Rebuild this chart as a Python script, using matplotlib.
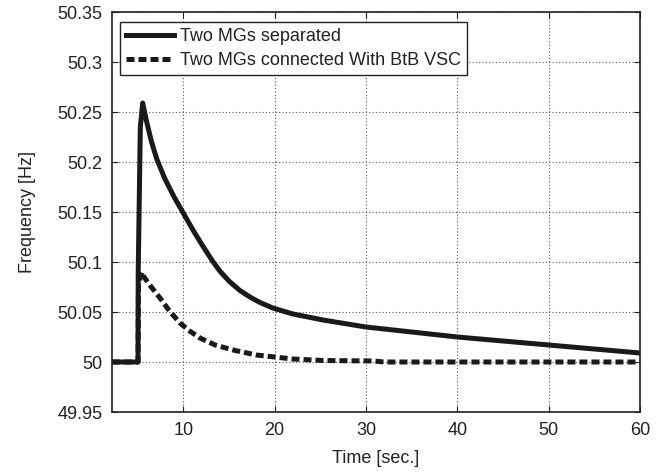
import matplotlib
matplotlib.use("Agg")
import matplotlib.pyplot as plt

plt.rcParams['font.family'] = ['Liberation Sans', 'DejaVu Sans']

# Data
t_sep = [2.2, 5.05, 5.07, 5.3, 5.56, 6.0, 6.5, 7.1, 8.0, 9.0, 10.0, 11.0, 12.0,
         13.2, 14.0, 15.0, 16.2, 17.3, 18.4, 19.8, 22.0, 25.3, 30.0, 35.0, 40.0, 45.0,
         50.0, 55.0, 60.0]
f_sep = [50.0, 50.0, 50.09, 50.235, 50.259, 50.240, 50.221, 50.203, 50.183,
         50.165, 50.149, 50.133, 50.118, 50.101, 50.091, 50.081, 50.0715, 50.065, 50.0595,
         50.054, 50.048, 50.042, 50.035, 50.030, 50.025, 50.021, 50.017, 50.013, 50.009]

t_con = [2.2, 5.05, 5.1, 5.5, 5.7, 6.5, 7.45, 8.5, 9.64, 10.7, 11.83, 13.5, 15.44, 18.0,
         20.0, 22.0, 25.3, 30.8, 32.0, 60.0]
f_con = [50.0, 50.0, 50.08, 50.09, 50.085, 50.075, 50.064, 50.051, 50.039, 50.031,
         50.024, 50.017, 50.012, 50.007, 50.005, 50.003, 50.0015, 50.001, 50.0, 50.0]

labels = ["Two MGs separated", "Two MGs connected With BtB VSC"]
xticks = [10, 20, 30, 40, 50, 60]
yticks = [49.95, 50.0, 50.05, 50.1, 50.15, 50.2, 50.25, 50.3, 50.35]
yticklabels = ["49.95", "50", "50.05", "50.1", "50.15", "50.2", "50.25", "50.3", "50.35"]

fig = plt.figure(figsize=(6.64, 4.73), dpi=100)
ax = fig.add_axes([112/664, 1-412/473, 528/664, 400/473])

ax.plot(t_sep, f_sep, color='#1a1a1a', lw=3.6, solid_joinstyle='round', label=labels[0])
ax.plot(t_con, f_con, color='#1a1a1a', lw=3.6, dashes=(1.6, 0.8), dash_capstyle='butt',
        label=labels[1])

ax.set_xlim(2.2, 60)
ax.set_ylim(49.95, 50.35)
ax.set_xticks(xticks)
ax.set_yticks(yticks)
ax.set_yticklabels(yticklabels)
ax.grid(True, linestyle=(0, (1, 2)), color='#555555', linewidth=0.8)
ax.tick_params(direction='in', top=True, right=True, labelsize=13, colors='#222222',
               length=4, pad=7)
for s in ax.spines.values():
    s.set_linewidth(1.2)
    s.set_color('#222222')

ax.set_xlabel("Time [sec.]", fontsize=13, color='#222222', labelpad=8)
ax.set_ylabel("Frequency [Hz]", fontsize=13, color='#222222', labelpad=15)

leg = ax.legend(loc='upper left', bbox_to_anchor=(8/528, 1-10/400), borderaxespad=0,
                fontsize=13, fancybox=False, edgecolor='#222222', framealpha=1,
                handlelength=2.65, handletextpad=0.3, borderpad=0.35, labelspacing=0.38)
leg.get_frame().set_linewidth(1.0)
for txt in leg.get_texts():
    txt.set_color('#222222')

fig.savefig("out.png", dpi=100)
